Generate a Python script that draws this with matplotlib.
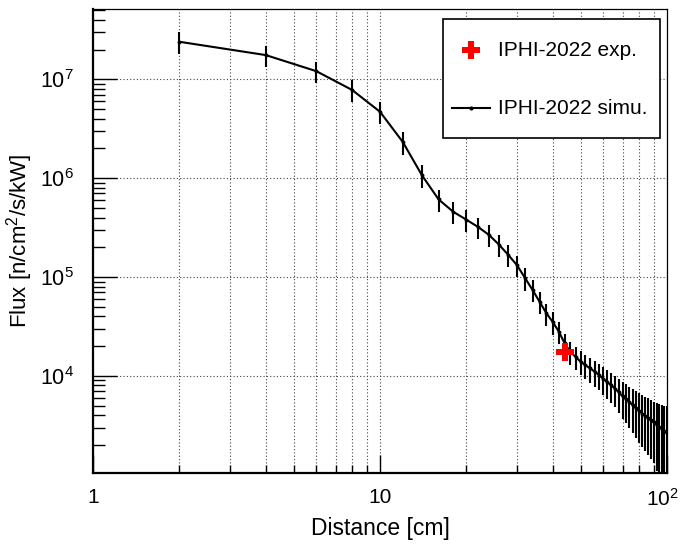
import matplotlib
matplotlib.use("Agg")
import matplotlib.pyplot as plt
from matplotlib.ticker import FixedLocator, FixedFormatter, NullFormatter
from matplotlib.patches import Rectangle
from matplotlib.transforms import ScaledTranslation

plt.rcParams['font.family'] = ['Liberation Sans', 'DejaVu Sans']
plt.rcParams['mathtext.fontset'] = 'custom'
plt.rcParams['mathtext.rm'] = 'Liberation Sans'
plt.rcParams['mathtext.it'] = 'Liberation Sans'

# ---- data ----
sim_distance = [2, 4, 6, 8, 10, 12, 14, 16, 18, 20, 22, 24, 26, 28, 30, 32, 34, 36, 38, 40,
                42, 44, 46, 48, 50, 52, 54, 56, 58, 60, 62, 64, 66, 68, 70, 72, 74, 76, 78, 80,
                82, 84, 86, 88, 90, 92, 94, 96, 98, 100]
sim_flux = [2.4e7, 1.76e7, 1.21e7, 7.8e6, 4.7e6, 2.33e6, 1.07e6, 6.1e5, 4.57e5, 3.8e5,
            3.2e5, 2.66e5, 2.12e5, 1.67e5, 1.32e5, 9.8e4, 7.4e4, 5.6e4, 4.3e4, 3.5e4,
            2.8e4, 2.13e4, 1.75e4, 1.56e4, 1.39e4, 1.28e4, 1.19e4, 1.1e4, 1.02e4, 9.3e3,
            8.6e3, 8.0e3, 7.4e3, 6.8e3, 6.2e3, 5.8e3, 5.4e3, 5.05e3, 4.7e3, 4.4e3,
            4.15e3, 3.95e3, 3.75e3, 3.55e3, 3.38e3, 3.2e3, 3.05e3, 2.9e3, 2.75e3, 2.62e3]
sim_err = [6.0e6, 4.4e6, 3.0e6, 1.95e6, 1.2e6, 6.0e5, 2.8e5, 1.55e5, 1.15e5, 9.6e4,
           8.0e4, 6.7e4, 5.3e4, 4.2e4, 3.3e4, 2.5e4, 1.85e4, 1.4e4, 1.08e4, 8.8e3,
           7.0e3, 5.4e3, 4.5e3, 4.1e3, 3.8e3, 3.6e3, 3.4e3, 3.2e3, 3.05e3, 2.9e3,
           2.8e3, 2.7e3, 2.6e3, 2.55e3, 2.5e3, 2.45e3, 2.4e3, 2.38e3, 2.35e3, 2.3e3,
           2.25e3, 2.2e3, 2.15e3, 2.1e3, 2.07e3, 2.1e3, 2.15e3, 2.2e3, 2.25e3, 2.3e3]
exp_distance = [44]
exp_flux = [1.75e4]

sim_label = "IPHI-2022 simu."
exp_label = "IPHI-2022 exp."
x_title = "Distance [cm]"
y_title = "Flux [n/cm$^{2}$/s/kW]"

x_major = [1, 10, 100]
x_major_labels = ["1", "10", "$10^{2}$"]
y_major = [1e4, 1e5, 1e6, 1e7]
y_major_labels = ["$10^{4}$", "$10^{5}$", "$10^{6}$", "$10^{7}$"]

# ---- figure ----
fig = plt.figure(figsize=(6.81, 5.45), dpi=100)
ax = fig.add_axes([93/681, 72/545, 574/681, 464/545])
ax.set_xscale('log')
ax.set_yscale('log')
ax.set_xlim(1, 100)
ax.set_ylim(1.04e3, 5.15e7)

x_minor = [m * d for d in (1, 10) for m in range(2, 10)]
y_minor = [m * d for d in (1e3, 1e4, 1e5, 1e6, 1e7) for m in range(2, 10) if m * d < 5.15e7]

ax.xaxis.set_major_locator(FixedLocator(x_major))
ax.xaxis.set_major_formatter(FixedFormatter(x_major_labels))
ax.xaxis.set_minor_locator(FixedLocator(x_minor))
ax.xaxis.set_minor_formatter(NullFormatter())
ax.yaxis.set_major_locator(FixedLocator(y_major))
ax.yaxis.set_major_formatter(FixedFormatter(y_major_labels))
ax.yaxis.set_minor_locator(FixedLocator(y_minor))
ax.yaxis.set_minor_formatter(NullFormatter())

grid_kw = dict(color='#444444', linestyle=(0, (1, 2)), linewidth=0.8)
ax.grid(True, which='both', axis='x', **grid_kw)
ax.grid(True, which='major', axis='y', **grid_kw)
ax.set_axisbelow(True)

ax.tick_params(axis='x', which='major', direction='in', length=13, width=1, labelsize=15, pad=11, top=False)
ax.tick_params(axis='x', which='minor', direction='in', length=6, width=1, top=False)
ax.tick_params(axis='y', which='major', direction='in', length=17, width=1, labelsize=15.5, pad=14, right=False)
ax.tick_params(axis='y', which='minor', direction='in', length=8.5, width=1, right=False)

for side in ('left', 'bottom'):
    ax.spines[side].set_linewidth(1.6)
for side in ('top', 'right'):
    ax.spines[side].set_linewidth(0.9)

ax.errorbar(sim_distance, sim_flux, yerr=sim_err, fmt='-', color='black', lw=1.5,
            elinewidth=1.5, capsize=0, marker='o', markersize=1.8, zorder=3)
ax.plot(exp_distance, exp_flux, linestyle='none', marker='P', color='red',
        markersize=13.5, markeredgewidth=0, zorder=4)

ax.set_xlabel(x_title, fontsize=16.5, labelpad=5)
ax.set_ylabel(y_title, fontsize=16)
ax.yaxis.set_label_coords(-0.101, 0.5)

# keep the last x label (10^2) inside the canvas
last = ax.xaxis.get_majorticklabels()[-1]
last.set_transform(last.get_transform() + ScaledTranslation(-3/72, 0, fig.dpi_scale_trans))

# ---- legend box (ROOT style) ----
tr = ax.transAxes
ax.add_patch(Rectangle((0.6098, 0.722), 0.378, 0.2564, transform=tr, facecolor='white',
                       edgecolor='black', linewidth=1.2, zorder=5, clip_on=False))
ax.plot([0.6585], [0.9116], transform=tr, linestyle='none', marker='P', color='red',
        markersize=13.5, markeredgewidth=0, zorder=6, clip_on=False)
ax.text(0.7056, 0.9116, exp_label, transform=tr, fontsize=15, va='center', ha='left', zorder=6)
ax.plot([0.6254, 0.6916], [0.7866, 0.7866], transform=tr, color='black', lw=1.5, zorder=6)
ax.plot([0.6585], [0.7866], transform=tr, linestyle='none', marker='o', color='black',
        markersize=2, zorder=6)
ax.text(0.7056, 0.7866, sim_label, transform=tr, fontsize=15, va='center', ha='left', zorder=6)

fig.savefig("out.png", dpi=100)
